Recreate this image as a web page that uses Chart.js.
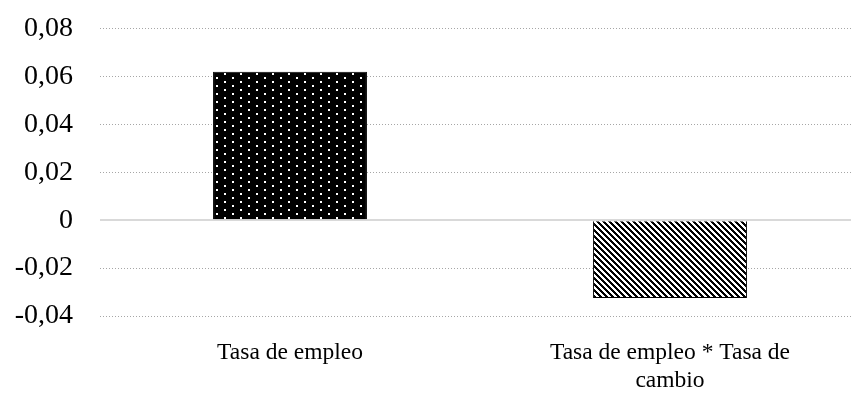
<!DOCTYPE html>
<html>
<head>
<meta charset="utf-8">
<script src="https://cdn.jsdelivr.net/npm/chart.js@4"></script>
<style>
  html, body { margin: 0; padding: 0; background: #fff; overflow: hidden; }
  #wrap { width: 851px; height: 394px; overflow: hidden; }
  #box { width: 862px; height: 409px; margin-top: -15px; }
</style>
</head>
<body>
<div id="wrap"><div id="box"><canvas id="chart"></canvas></div></div>
<script>
const categories = ['Tasa de empleo', ['Tasa de empleo * Tasa de', 'cambio']];
const values = [0.0621, -0.0325];
const yMin = -0.04;
const yMax = 0.08;
const yStep = 0.02;

// dotted fill: black with small white squares
function dotPattern() {
  const c = document.createElement('canvas');
  c.width = 16; c.height = 8;
  const g = c.getContext('2d');
  g.fillStyle = '#000';
  g.fillRect(0, 0, 16, 8);
  g.fillStyle = '#fff';
  g.fillRect(0, 0, 2, 2);
  g.fillRect(8, 4, 2, 2);
  return g.createPattern(c, 'repeat');
}

// diagonal stripes, top-left to bottom-right
function stripePattern() {
  const n = 6;
  const c = document.createElement('canvas');
  c.width = n; c.height = n;
  const g = c.getContext('2d');
  g.fillStyle = '#fff';
  g.fillRect(0, 0, n, n);
  g.fillStyle = '#000';
  for (let y = 0; y < n; y++) {
    for (let k = 0; k < 3; k++) {
      g.fillRect((y + k) % n, y, 1, 1);
    }
  }
  return g.createPattern(c, 'repeat');
}

const fmt = v => {
  const r = Math.round(v * 100) / 100;
  return r === 0 ? '0' : r.toFixed(2).replace('.', ',');
};

new Chart(document.getElementById('chart'), {
  type: 'bar',
  data: {
    labels: categories,
    datasets: [{
      data: values,
      backgroundColor: [dotPattern(), stripePattern()],
      borderColor: '#000',
      borderWidth: 1,
      barPercentage: 0.405,
      categoryPercentage: 1
    }]
  },
  options: {
    responsive: true,
    maintainAspectRatio: false,
    animation: false,
    layout: { autoPadding: false, padding: { left: 13, right: 2, top: 28, bottom: 0 } },
    plugins: { legend: { display: false }, tooltip: { enabled: false } },
    scales: {
      x: {
        grid: { display: false, drawTicks: false },
        border: { display: false },
        afterFit: s => { s.height = 78; },
        ticks: {
          color: '#000',
          padding: 23,
          maxRotation: 0,
          font: { family: 'Liberation Serif', size: 23.5, lineHeight: 1.19 }
        }
      },
      y: {
        min: yMin,
        max: yMax,
        afterFit: s => { s.width = 87; },
        grid: {
          drawTicks: false,
          color: ctx => Math.abs(ctx.tick.value) < 1e-9 ? '#d9d9d9' : '#a6a6a6',
          lineWidth: ctx => Math.abs(ctx.tick.value) < 1e-9 ? 2 : 1
        },
        border: {
          display: false,
          dash: ctx => (ctx.tick && Math.abs(ctx.tick.value) < 1e-9) ? [] : [1, 2]
        },
        ticks: {
          stepSize: yStep,
          color: '#000',
          padding: 27,
          font: { family: 'Liberation Serif', size: 28 },
          callback: v => fmt(v)
        }
      }
    }
  }
});
</script>
</body>
</html>
